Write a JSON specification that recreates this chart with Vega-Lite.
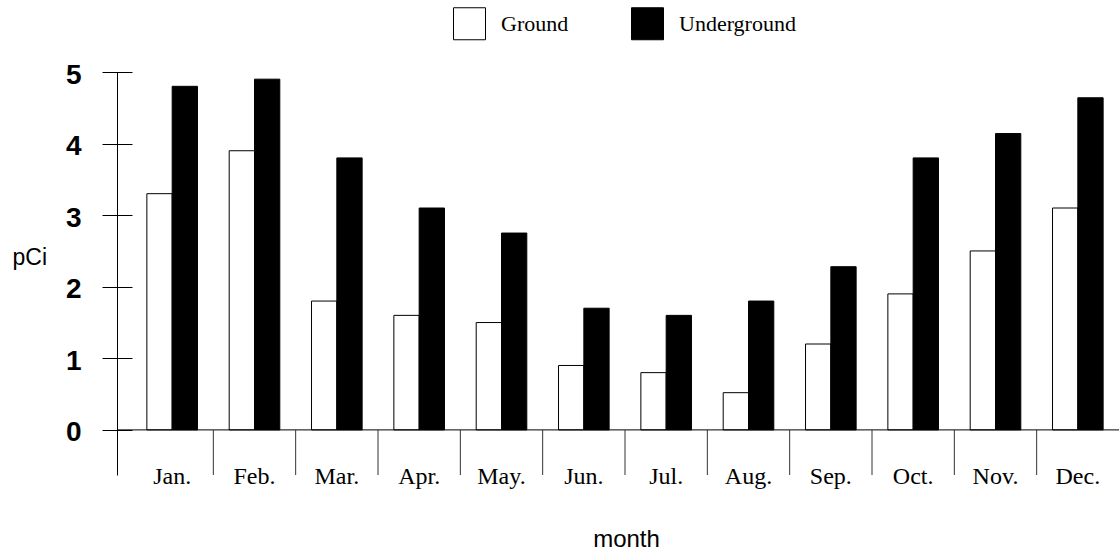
{
  "$schema": "https://vega.github.io/schema/vega-lite/v6.json",
  "width": 1002,
  "height": 403,
  "autosize": {"type": "none"},
  "padding": {"left": 117, "top": 72, "right": 0, "bottom": 78},
  "background": "white",
  "config": {
    "view": {"stroke": null},
    "axis": {"grid": false, "domainColor": "black", "tickColor": "black", "labelColor": "black", "titleColor": "black", "domainWidth": 1, "tickWidth": 1}
  },
  "datasets": {
    "radon": [
      {"month": "Jan.", "type": "Ground", "value": 3.3},
      {"month": "Jan.", "type": "Underground", "value": 4.8},
      {"month": "Feb.", "type": "Ground", "value": 3.9},
      {"month": "Feb.", "type": "Underground", "value": 4.9},
      {"month": "Mar.", "type": "Ground", "value": 1.8},
      {"month": "Mar.", "type": "Underground", "value": 3.8},
      {"month": "Apr.", "type": "Ground", "value": 1.6},
      {"month": "Apr.", "type": "Underground", "value": 3.1},
      {"month": "May.", "type": "Ground", "value": 1.5},
      {"month": "May.", "type": "Underground", "value": 2.75},
      {"month": "Jun.", "type": "Ground", "value": 0.9},
      {"month": "Jun.", "type": "Underground", "value": 1.7},
      {"month": "Jul.", "type": "Ground", "value": 0.8},
      {"month": "Jul.", "type": "Underground", "value": 1.6},
      {"month": "Aug.", "type": "Ground", "value": 0.52},
      {"month": "Aug.", "type": "Underground", "value": 1.8},
      {"month": "Sep.", "type": "Ground", "value": 1.2},
      {"month": "Sep.", "type": "Underground", "value": 2.28},
      {"month": "Oct.", "type": "Ground", "value": 1.9},
      {"month": "Oct.", "type": "Underground", "value": 3.8},
      {"month": "Nov.", "type": "Ground", "value": 2.5},
      {"month": "Nov.", "type": "Underground", "value": 4.14},
      {"month": "Dec.", "type": "Ground", "value": 3.1},
      {"month": "Dec.", "type": "Underground", "value": 4.64}
    ],
    "base": [{"v": 0}]
  },
  "layer": [
    {
      "data": {"name": "radon"},
      "mark": {"type": "bar", "stroke": "black", "strokeWidth": 1},
      "encoding": {
        "x": {
          "field": "month",
          "type": "nominal",
          "sort": ["Jan.", "Feb.", "Mar.", "Apr.", "May.", "Jun.", "Jul.", "Aug.", "Sep.", "Oct.", "Nov.", "Dec."],
          "scale": {"range": [14, 1002], "paddingInner": 0, "paddingOuter": 0},
          "axis": {
            "orient": "bottom",
            "domain": false,
            "ticks": false,
            "labelPadding": -11,
            "labelFont": "Liberation Serif",
            "labelFontSize": 24,
            "labelFontWeight": "normal",
            "labelAngle": 0,
            "title": "month",
            "titleFont": "Liberation Sans",
            "titleFontSize": 24,
            "titleFontWeight": "normal",
            "titleX": 509,
            "titleY": 71,
            "titleBaseline": "alphabetic",
            "titleAlign": "center"
          }
        },
        "xOffset": {
          "field": "type",
          "type": "nominal",
          "sort": ["Ground", "Underground"],
          "scale": {"paddingInner": 0, "paddingOuter": 0.627}
        },
        "y": {
          "field": "value",
          "type": "quantitative",
          "scale": {"domain": [-0.63, 5], "nice": false, "zero": false},
          "axis": {
            "orient": "left",
            "values": [0, 1, 2, 3, 4, 5],
            "offset": -15,
            "tickSize": 30,
            "domain": false,
            "labelPadding": 21,
            "labelFont": "Liberation Sans",
            "labelFontSize": 28,
            "labelFontWeight": "bold",
            "labelBaseline": "middle",
            "labelOffset": 3,
            "title": "pCi",
            "titleAngle": 0,
            "titleAlign": "left",
            "titleBaseline": "alphabetic",
            "titleX": -120,
            "titleY": 192,
            "titleFont": "Liberation Sans",
            "titleFontSize": 23,
            "titleFontWeight": "normal"
          }
        },
        "y2": {"datum": 0},
        "fill": {
          "field": "type",
          "type": "nominal",
          "scale": {"domain": ["Ground", "Underground"], "range": ["white", "black"]},
          "legend": {
            "orient": "none",
            "legendX": 336,
            "legendY": -65,
            "direction": "horizontal",
            "title": null,
            "symbolType": "square",
            "symbolSize": 1024,
            "symbolStrokeColor": "black",
            "symbolStrokeWidth": 1,
            "labelFont": "Liberation Serif",
            "labelFontSize": 22,
            "labelColor": "black",
            "labelOffset": 15,
            "columnPadding": 60,
            "padding": 0
          }
        }
      }
    },
    {
      "data": {"name": "base"},
      "mark": {"type": "rule", "color": "black", "strokeWidth": 1},
      "encoding": {
        "y": {
          "field": "v",
          "type": "quantitative",
          "axis": {"orient": "left", "offset": 0, "domain": true, "ticks": false, "labels": false, "title": null}
        }
      }
    },
    {
      "data": {"name": "radon"},
      "transform": [{"filter": "datum.type == 'Ground' && datum.month != 'Jan.'"}],
      "mark": {"type": "rule", "color": "#333333", "strokeWidth": 1},
      "encoding": {
        "x": {
          "field": "month",
          "type": "nominal",
          "sort": ["Jan.", "Feb.", "Mar.", "Apr.", "May.", "Jun.", "Jul.", "Aug.", "Sep.", "Oct.", "Nov.", "Dec."],
          "bandPosition": 0
        },
        "y": {"datum": 0, "axis": null},
        "y2": {"datum": -0.63}
      }
    }
  ],
  "resolve": {"axis": {"y": "independent"}}
}
